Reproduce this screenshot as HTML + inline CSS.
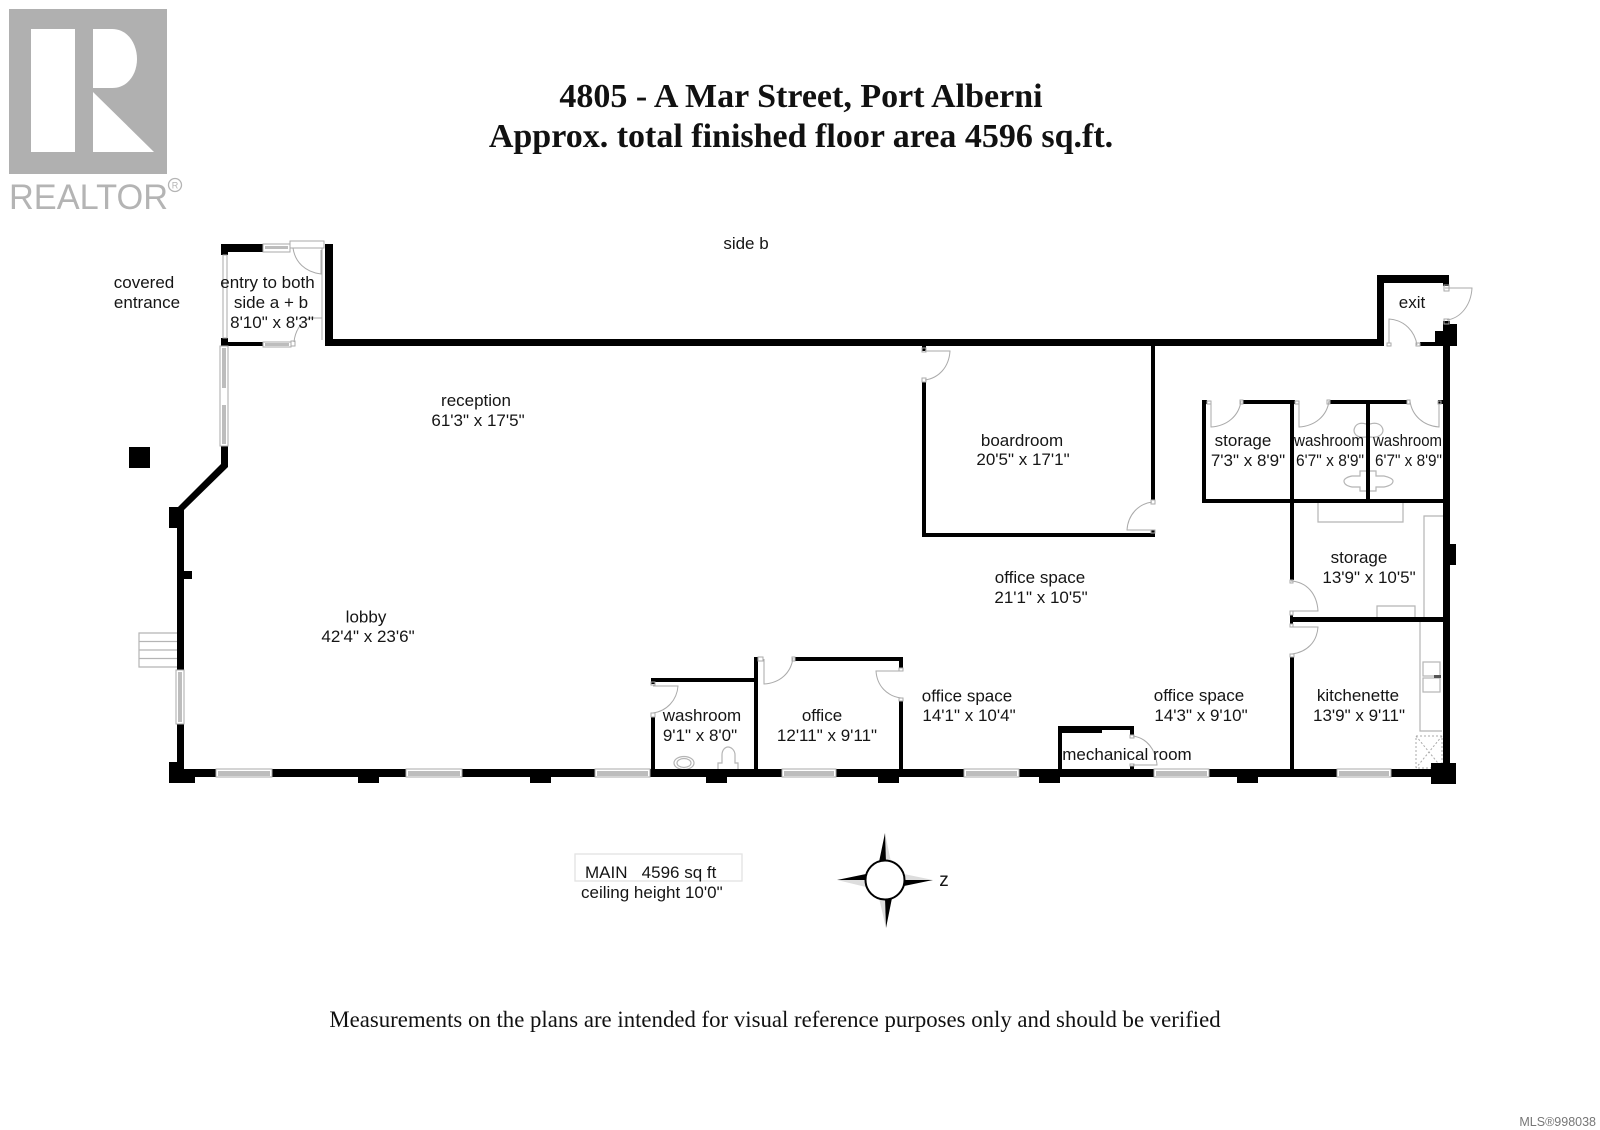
<!DOCTYPE html>
<html><head><meta charset="utf-8"><title>4805 - A Mar Street floor plan</title>
<style>
html,body{margin:0;padding:0;background:#fff;width:1600px;height:1130px;overflow:hidden}
svg{display:block}
text{font-family:"Liberation Sans",sans-serif;font-size:17px;fill:#151515;text-anchor:middle}
.t{font-family:"Liberation Serif",serif;font-weight:bold;font-size:34px;fill:#111}
.m{font-family:"Liberation Serif",serif;font-size:22.8px;fill:#111}
.w{fill:#000}
.d{fill:none;stroke:#aaa;stroke-width:1}
.f{fill:#fff;stroke:#aaa;stroke-width:1}
.n{fill:none;stroke:#b5b5b5;stroke-width:1.2}
.g{fill:#bdbdbd}
</style></head><body>
<svg width="1600" height="1130" viewBox="0 0 1600 1130" xmlns="http://www.w3.org/2000/svg">
<!-- logo -->
<rect x="9" y="9" width="158" height="165" fill="#b0b0b0"/>
<rect x="31" y="29" width="44" height="123" fill="#fff"/>
<path d="M93 29H112C128 29 137 44 137 59C137 74 128 88 112 88H93Z" fill="#fff"/>
<path d="M93 92L154 152H93Z" fill="#fff"/>
<text x="9" y="209" textLength="159" lengthAdjust="spacingAndGlyphs" style="font-size:35px;fill:#b4b4b4;text-anchor:start">REALTOR</text>
<circle cx="175" cy="185" r="6.5" fill="none" stroke="#b4b4b4" stroke-width="1.3"/>
<text x="175" y="188.500" style="font-size:9px;fill:#b4b4b4">R</text>

<text class="t" x="801" y="107">4805 - A Mar Street, Port Alberni</text>
<text class="t" x="801" y="147">Approx. total finished floor area 4596 sq.ft.</text>

<!-- fixtures drawn below walls -->
<g>
<path class="n" d="M1318 503V522H1403V503"/>
<path class="n" d="M1443 516H1424V617M1377 617V606H1415V617M1420 622V731H1442"/>
<rect class="n" x="1423" y="662" width="17" height="14"/>
<rect class="n" x="1423" y="678" width="17" height="14"/>
<rect x="1434" y="675" width="7" height="3" fill="#555"/>
<g stroke="#aaa" stroke-width="1" stroke-dasharray="2 2" fill="none">
<rect x="1416" y="736" width="26" height="32"/>
<path d="M1416 736L1442 768M1442 736L1416 768"/>
</g>
<ellipse cx="684" cy="763" rx="10" ry="6.500" class="n"/><ellipse cx="684" cy="763" rx="7" ry="4.500" class="n"/>
<path class="n" d="M718 769V763H722V755C722 750 725 747 728 747C731 747 735 750 735 755V763H738V769"/>
<path class="n" d="M1366 471H1360V476H1352C1347 477 1344 479 1344 481C1344 484 1347 486 1352 487H1360V491H1366M1370 471H1376V476H1384C1389 477 1393 479 1393 481C1393 484 1389 486 1384 487H1376V491H1370"/>
<path class="n" d="M1366 424C1360 422 1355 424 1354 430C1354 435 1358 438 1366 437M1370 424C1376 422 1382 424 1383 430C1383 435 1378 438 1370 437"/>
</g>

<!-- outer walls -->
<g class="w">
<rect x="221" y="244" width="42" height="8"/><rect x="221" y="244" width="7" height="11"/>
<rect x="325" y="244" width="8" height="102"/>
<rect x="325" y="339" width="1059" height="7"/>
<rect x="221" y="342" width="42" height="4"/><rect x="221" y="338" width="7" height="22"/>
<polygon points="221,446 228,446 228,467 184,510 184,528 169,528 169,507 178,507 221,464"/>
<rect x="177" y="507" width="7" height="163"/>
<rect x="184" y="571" width="8" height="8"/>
<rect x="177" y="724" width="7" height="46"/>
<rect x="169" y="762" width="15" height="21"/>
<rect x="169" y="769" width="1280" height="8"/>
<rect x="169" y="776" width="26" height="7"/>
<rect x="358" y="776" width="21" height="7"/>
<rect x="530" y="776" width="21" height="7"/>
<rect x="706" y="776" width="21" height="7"/>
<rect x="878" y="776" width="21" height="7"/>
<rect x="1039" y="776" width="21" height="7"/>
<rect x="1237" y="776" width="21" height="7"/>
<rect x="1431" y="763" width="25" height="21"/>
<rect x="1443" y="321" width="7" height="450"/>
<rect x="1449" y="544" width="7" height="21"/>
<rect x="1435" y="331" width="22" height="15"/><rect x="1443" y="324" width="14" height="10"/>
<rect x="1377" y="275" width="7" height="71"/>
<rect x="1377" y="275" width="72" height="8"/>
<rect x="1443" y="275" width="6" height="11"/>
<rect x="1420" y="342" width="25" height="4"/>
<!-- boardroom -->
<rect x="922" y="346" width="4" height="5"/>
<rect x="922" y="382" width="4" height="155"/>
<rect x="922" y="533" width="233" height="4"/>
<rect x="1151" y="346" width="4" height="154"/>
<rect x="1151" y="530" width="4" height="7"/>
<!-- storage / washrooms -->
<rect x="1202" y="400" width="5" height="4"/>
<rect x="1202" y="400" width="4" height="103"/>
<rect x="1243" y="400" width="52" height="4"/>
<rect x="1330" y="400" width="77" height="4"/>
<rect x="1438" y="400" width="5" height="4"/>
<rect x="1202" y="499" width="241" height="4"/>
<rect x="1290" y="400" width="4" height="180"/>
<rect x="1366" y="400" width="4" height="103"/>
<rect x="1290" y="617" width="153" height="5"/>
<rect x="1290" y="615" width="3" height="9"/>
<rect x="1290" y="657" width="4" height="113"/>
<!-- office + washroom -->
<rect x="754" y="657" width="4" height="113"/>
<rect x="795" y="657" width="108" height="4"/>
<rect x="899" y="657" width="4" height="11"/>
<rect x="899" y="701" width="4" height="69"/>
<rect x="651" y="678" width="104" height="4"/>
<rect x="651" y="678" width="4" height="6"/>
<rect x="651" y="717" width="4" height="53"/>
<!-- mechanical -->
<rect x="1058" y="726" width="4" height="44"/>
<rect x="1058" y="726" width="44" height="7"/>
<rect x="1102" y="726" width="32" height="4"/>
<rect x="1130" y="726" width="4" height="9"/>
<rect x="1130" y="766" width="4" height="4"/>
</g>

<!-- column -->
<rect x="129" y="447" width="21" height="21" fill="#000"/>

<!-- horizontal windows -->
<g>
<rect class="f" x="216" y="769" width="56" height="8"/><rect class="g" x="218" y="771" width="52" height="5"/>
<rect class="f" x="406" y="769" width="56" height="8"/><rect class="g" x="408" y="771" width="52" height="5"/>
<rect class="f" x="595" y="769" width="55" height="8"/><rect class="g" x="597" y="771" width="51" height="5"/>
<rect class="f" x="782" y="769" width="54" height="8"/><rect class="g" x="784" y="771" width="50" height="5"/>
<rect class="f" x="964" y="769" width="55" height="8"/><rect class="g" x="966" y="771" width="51" height="5"/>
<rect class="f" x="1154" y="769" width="55" height="8"/><rect class="g" x="1156" y="771" width="51" height="5"/>
<rect class="f" x="1337" y="769" width="54" height="8"/><rect class="g" x="1339" y="771" width="50" height="5"/>
<rect class="f" x="263" y="244" width="27" height="8"/><rect class="g" x="265" y="246" width="23" height="3"/>
<rect class="f" x="263" y="342" width="28" height="5"/><rect class="g" x="265" y="343" width="24" height="3"/>
<!-- vertical windows -->
<rect class="f" x="176" y="670" width="8" height="54"/><rect class="g" x="178" y="672" width="4" height="50"/>
<rect class="f" x="220" y="346" width="8" height="100"/><rect class="g" x="222" y="348" width="4" height="40"/><rect class="g" x="222" y="405" width="4" height="39"/>
<rect class="f" x="223" y="255" width="4" height="83"/>
</g>

<!-- stairs -->
<path class="n" d="M177 633H139V667H177M139 641.500H177M139 650H177M139 658.500H177"/>

<!-- doors -->
<g>
<path class="d" d="M290 241H324V248H290ZM293 248C295 262 305 272 321 274V250M322 248V340"/>
<path class="d" d="M322 340V318H310C300 322 295 332 294 342M291 341H295V346H291Z"/>
<path class="d" d="M1389 343V319C1405 320 1415 332 1417 345M1387 343H1391V346H1387ZM1416 343H1420V346H1416Z"/>
<path class="d" d="M1445 288H1472C1471 305 1461 318 1447 320M1444 285H1449V291H1444ZM1444 319H1449V324H1444Z"/>
<path class="d" d="M925 351H950C949 367 939 378 925 380M922 348H926V352H922ZM922 378H926V382H922Z"/>
<path class="d" d="M1152 530H1127C1128 515 1138 504 1152 502M1151 500H1155V504H1151ZM1151 530H1155V533H1151Z"/>
<path class="d" d="M1211 404V427C1227 426 1239 416 1241 401M1207 401H1211V404H1207ZM1240 400H1243V404H1240Z"/>
<path class="d" d="M1299 404V427C1315 426 1327 416 1329 401M1295 401H1299V404H1295ZM1327 400H1330V404H1327Z"/>
<path class="d" d="M1439 404V427C1424 426 1412 416 1410 401M1407 400H1410V404H1407ZM1438 401H1441V404H1438Z"/>
<path class="d" d="M1291 581C1307 582 1317 594 1318 611H1291M1290 580H1293V583H1290ZM1290 611H1293V615H1290Z"/>
<path class="d" d="M1291 627H1318C1317 642 1307 652 1292 654M1290 624H1293V627H1290ZM1290 654H1294V657H1290Z"/>
<path class="d" d="M764 659V684C780 683 791 673 793 658M758 657H763V661H758ZM792 657H795V661H792Z"/>
<path class="d" d="M901 671H876C877 686 887 696 901 698M899 668H903V671H899ZM899 698H903V701H899Z"/>
<path class="d" d="M653 686H678C677 700 667 711 653 713M651 682H655V685H651ZM651 713H655V717H651Z"/>
<path class="d" d="M1133 736C1147 738 1156 750 1157 765H1133M1130 735H1134V738H1130ZM1130 764H1134V766H1130Z"/>
</g>

<!-- info box -->
<rect x="575" y="854" width="167" height="27" fill="none" stroke="#e2e2e2" stroke-width="1.3"/>

<!-- compass -->
<g>
<polygon points="885,833 886,861 891,862" fill="#ddd"/>
<polygon points="933,880 904,874 904,881" fill="#ddd"/>
<polygon points="886,928 885,899 879,898" fill="#ddd"/>
<polygon points="837,880 866,880 866,887" fill="#ddd"/>
<polygon points="885,833 879,862 886,862" fill="#000"/>
<polygon points="933,880 904,880 904,886" fill="#000"/>
<polygon points="886,928 885,898 892,898" fill="#000"/>
<polygon points="837,880 866,874 866,880" fill="#000"/>
<circle cx="885" cy="880" r="19.500" fill="#fff" stroke="#000" stroke-width="2"/>
</g>
<text x="944" y="886" style="font-size:19px">z</text>

<!-- labels -->
<text x="746" y="249">side b</text>
<text x="144" y="288">covered</text>
<text x="147" y="308">entrance</text>
<text x="267.500" y="288">entry to both</text>
<text x="271" y="308">side a + b</text>
<text x="272" y="328">8'10" x 8'3"</text>
<text x="476" y="406">reception</text>
<text x="478" y="426">61'3" x 17'5"</text>
<text x="366" y="622.500">lobby</text>
<text x="368" y="642">42'4" x 23'6"</text>
<text x="1022" y="446">boardroom</text>
<text x="1023" y="465">20'5" x 17'1"</text>
<text x="1040" y="583">office space</text>
<text x="1041" y="603">21'1" x 10'5"</text>
<text x="702" y="721">washroom</text>
<text x="700" y="741">9'1" x 8'0"</text>
<text x="822" y="721">office</text>
<text x="827" y="741">12'11" x 9'11"</text>
<text x="967" y="701.500">office space</text>
<text x="969" y="721">14'1" x 10'4"</text>
<text x="1127" y="760">mechanical room</text>
<text x="1199" y="701">office space</text>
<text x="1201" y="721">14'3" x 9'10"</text>
<text x="1358" y="701">kitchenette</text>
<text x="1359" y="721">13'9" x 9'11"</text>
<text x="1359" y="563">storage</text>
<text x="1369" y="583">13'9" x 10'5"</text>
<text x="1243" y="446">storage</text>
<text x="1248" y="466">7'3" x 8'9"</text>
<text x="1294" y="446" textLength="70" lengthAdjust="spacingAndGlyphs" style="text-anchor:start">washroom</text>
<text x="1296" y="466" textLength="68" lengthAdjust="spacingAndGlyphs" style="text-anchor:start">6'7" x 8'9"</text>
<text x="1373" y="446" textLength="69" lengthAdjust="spacingAndGlyphs" style="text-anchor:start">washroom</text>
<text x="1375" y="466" textLength="67" lengthAdjust="spacingAndGlyphs" style="text-anchor:start">6'7" x 8'9"</text>
<text x="1412" y="308">exit</text>
<text x="585" y="878" xml:space="preserve" style="text-anchor:start">MAIN   4596 sq ft</text>
<text x="581" y="898" style="text-anchor:start">ceiling height 10'0"</text>
<text class="m" x="775" y="1027">Measurements on the plans are intended for visual reference purposes only and should be verified</text>
<text x="1596" y="1126" style="font-size:12.500px;fill:#777;text-anchor:end">MLS®998038</text>
</svg>
</body></html>
